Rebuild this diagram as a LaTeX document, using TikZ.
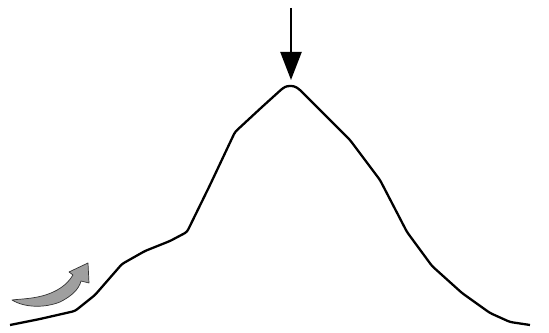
\documentclass[tikz,border=0pt]{standalone}
\usepackage{tikz}
\usetikzlibrary{arrows.meta}

\begin{document}
\begin{tikzpicture}[x=0.02cm, y=-0.02cm, line join=round]
    \useasboundingbox (0,0) rectangle (549,333);

    % Hill profile
    \draw[line width=1.3pt, rounded corners=1.5pt] (10,325) -- (40,319) -- (75,311) -- (95,295) -- (122,264)
        -- (145,251) -- (170,241) -- (187,232) -- (210,185) -- (235,132)
        -- (262,107) -- (283,88) -- (287,86) -- (294,86) -- (299,89) -- (322,112)
        -- (350,140) -- (380,180) -- (407,232) -- (432,266) -- (462,293)
        -- (490,313) -- (510,322) -- (530,325);

    % Peak marker
    \coordinate (top) at (291,8);
    \coordinate (peak) at (291,80);
    \draw[line width=1.3pt, -{Triangle[length=0.56cm, width=0.42cm]}] (top) -- (peak);

    % Climbing arrow
    \draw[fill=gray!75, draw=black!80, line width=0.4pt]
        (12,300) .. controls (25,308) and (45,308) .. (60,302)
        .. controls (72,296) and (79,289) .. (81,281)
        -- (89,283) -- (88,263) -- (69,272) -- (73,275)
        .. controls (67,285) and (57,292) .. (42,296)
        .. controls (30,299) and (20,299) .. cycle;
\end{tikzpicture}
\end{document}
